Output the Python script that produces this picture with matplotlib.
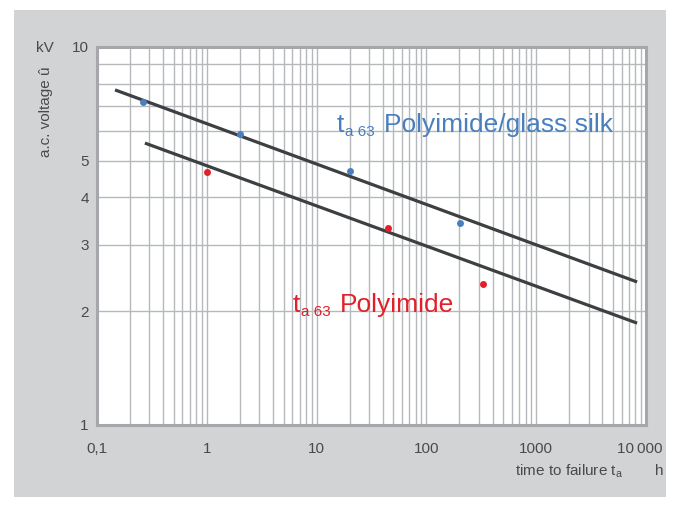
import matplotlib

matplotlib.use("Agg")

import numpy as np
import matplotlib.pyplot as plt
from matplotlib.patches import Rectangle
from matplotlib.ticker import FixedLocator, NullFormatter
from matplotlib.transforms import ScaledTranslation

plt.rcParams['font.family'] = ['Liberation Sans', 'DejaVu Sans']
plt.rcParams['mathtext.fontset'] = 'custom'
plt.rcParams['mathtext.rm'] = 'Liberation Sans'

# Data
silk_t = [0.26, 2.0, 20, 202]
silk_u = [7.17, 5.89, 4.71, 3.42]
poly_t = [1.0, 44.5, 330]
poly_u = [4.67, 3.32, 2.36]

# fitted lines (end points)
silk_fit_t = [0.146, 8300]
silk_fit_u = [7.7, 2.39]
poly_fit_t = [0.273, 8300]
poly_fit_u = [5.57, 1.86]

xticks = [0.1, 1, 10, 100, 1000, 10000]
xlabels = ["0,1", "1", "10", "100", "1000", "10\u2009000"]
yticks = [1, 2, 3, 4, 5, 10]
ygrid = [2, 3, 4, 5, 6, 7, 8, 9]

blue = "#4a7fbf"
red = "#e1202b"
dark = "#3d4043"
txt = "#4a4a4a"

fig = plt.figure(figsize=(6.8, 5.07), dpi=100)
bg = Rectangle((14 / 680, 1 - 497 / 507), (666 - 14) / 680, (497 - 10) / 507,
               transform=fig.transFigure, facecolor="#d2d3d5",
               edgecolor="none", zorder=-10)
fig.add_artist(bg)

ax = fig.add_axes([97 / 680, 1 - 425 / 507, (646 - 97) / 680, (425 - 47) / 507])
ax.set_facecolor("white")
ax.set_xscale("log")
ax.set_yscale("log")
ax.set_xlim(0.1, 10000)
ax.set_ylim(1, 10)

# grid
minors = [m * 10.0 ** e for e in range(-1, 4) for m in range(2, 10)]
for x in minors + xticks[1:-1]:
    ax.axvline(x, color="#b7b8bb", lw=1.0, zorder=1)
for y in ygrid:
    ax.axhline(y, color="#b7b8bb", lw=1.0, zorder=1)

ax.plot(silk_fit_t, silk_fit_u, color=dark, lw=2.3, solid_capstyle="butt", zorder=3)
ax.plot(poly_fit_t, poly_fit_u, color=dark, lw=2.3, solid_capstyle="butt", zorder=3)
ax.plot(silk_t, silk_u, "o", color=blue, ms=5, mec="none", zorder=4)
ax.plot(poly_t, poly_u, "o", color=red, ms=5, mec="none", zorder=4)

ax.xaxis.set_major_locator(FixedLocator(xticks))
ax.xaxis.set_minor_formatter(NullFormatter())
ax.set_xticks(xticks, xlabels)
ax.yaxis.set_major_locator(FixedLocator(yticks))
ax.yaxis.set_minor_formatter(NullFormatter())
ax.set_yticks(yticks, [str(v) for v in yticks])
ax.tick_params(which="both", length=0, labelsize=11, colors=txt)
ax.tick_params(axis="x", pad=12)
ax.tick_params(axis="y", pad=6)

# the last x label sits a little left of its tick
last = ax.xaxis.get_major_ticks()[-1].label1
last.set_transform(last.get_transform() + ScaledTranslation(-0.06, 0, fig.dpi_scale_trans))

for s in ax.spines.values():
    s.set_color("#a6a7aa")
    s.set_linewidth(2.2)
    s.set_zorder(5)

# annotations
fig.text(45 / 680, 1 - 48 / 507, "kV", fontsize=11, color=txt, ha="center", va="center")
fig.text(46 / 680, 1 - 112 / 507, "a.c. voltage û", fontsize=11, color=txt,
         ha="center", va="center", rotation=90)
fig.text(623 / 680, 1 - 471 / 507, r"time to failure t$_\mathregular{a}$", fontsize=11,
         color=txt, ha="right", va="center")
fig.text(659 / 680, 1 - 471 / 507, "h", fontsize=11, color=txt, ha="center", va="center")


def label(x, base, body, color):
    # "t" with a small "a 63" subscript, then the material name
    fig.text(x / 680, 1 - base / 507, "t", fontsize=19, color=color, va="baseline")
    fig.text((x + 8) / 680, 1 - (base + 4) / 507, "a 63", fontsize=11, color=color,
             va="baseline")
    fig.text((x + 47) / 680, 1 - base / 507, body, fontsize=19, color=color,
             va="baseline")


label(337, 132, "Polyimide/glass silk", blue)
label(293, 312, "Polyimide", red)

fig.savefig("out.png", dpi=100)
